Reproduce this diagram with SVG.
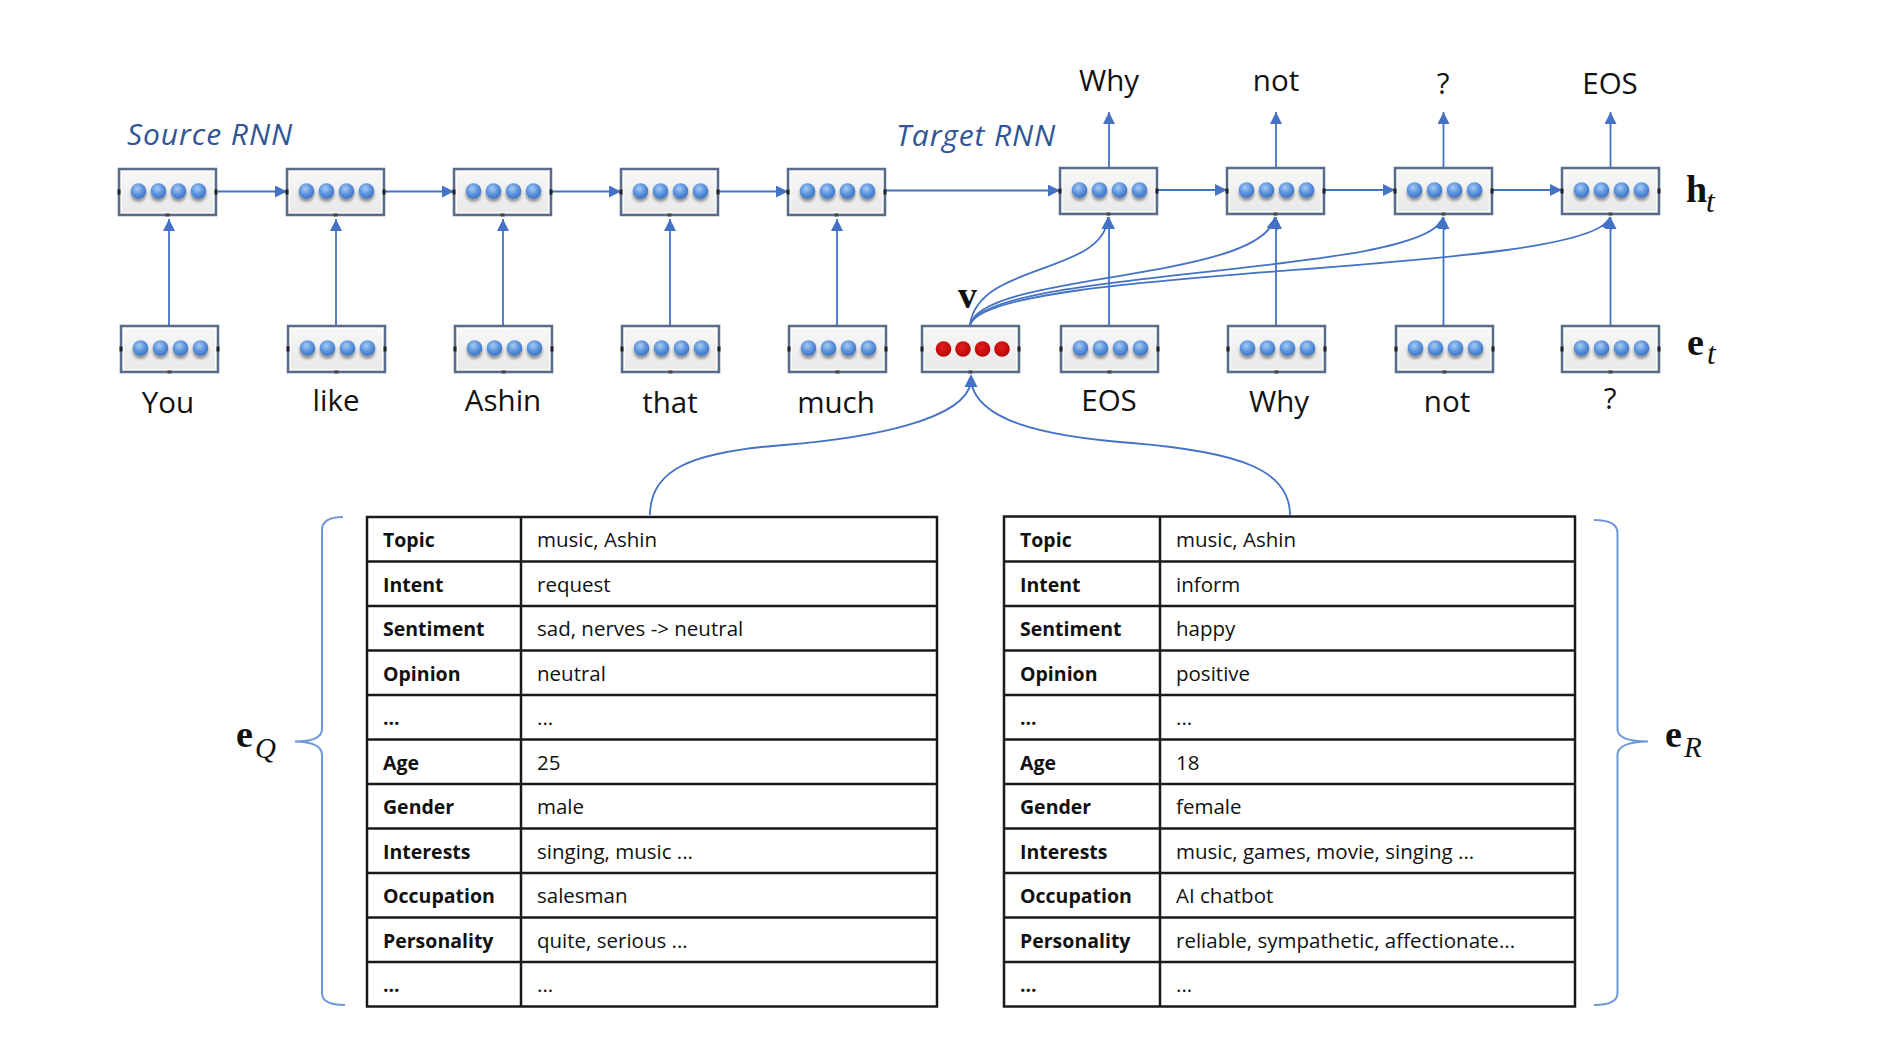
<svg xmlns="http://www.w3.org/2000/svg" xmlns:xlink="http://www.w3.org/1999/xlink" width="1888" height="1059" viewBox="0 0 1888 1059">
<style>
.word{font-family:"Open Sans","Liberation Sans",sans-serif;font-size:29.5px;fill:#111;text-anchor:middle}
.rnn{font-family:"Open Sans","Liberation Sans",sans-serif;font-size:30px;font-style:italic;fill:#2F5597}
.math{font-family:"Liberation Serif","DejaVu Serif",serif;font-weight:bold;fill:#111}
.sub{font-family:"Liberation Serif","DejaVu Serif",serif;font-style:italic;fill:#111}
.key{font-family:"Open Sans","Liberation Sans",sans-serif;font-size:19.5px;font-weight:bold;fill:#111}
.val{font-family:"Open Sans","Liberation Sans",sans-serif;font-size:20.5px;fill:#111}
.conn{fill:none;stroke:#4472C4;stroke-width:1.8}
.arr{marker-end:url(#ah)}
.brace{fill:none;stroke:#6F98DA;stroke-width:2}
.tbl{fill:#fff;stroke:#1a1a1a;stroke-width:2.5}
.tline{stroke:#1a1a1a;stroke-width:2.5}
</style>
<defs>
<marker id="ah" viewBox="0 0 10 10" refX="10" refY="5" markerWidth="12" markerHeight="12" markerUnits="userSpaceOnUse" orient="auto">
<path d="M0,0 L10,5 L0,10 z" fill="#4472C4"/>
</marker>
<linearGradient id="boxFill" x1="0" y1="0" x2="0" y2="1">
<stop offset="0" stop-color="#F8F8F8"/>
<stop offset="1" stop-color="#E8E8E8"/>
</linearGradient>
<radialGradient id="blueBall" cx="0.42" cy="0.35" r="0.65">
<stop offset="0" stop-color="#A8CBF4"/>
<stop offset="0.55" stop-color="#5F96DE"/>
<stop offset="1" stop-color="#3D74C4"/>
</radialGradient>
<radialGradient id="redBall" cx="0.42" cy="0.38" r="0.65">
<stop offset="0" stop-color="#E02020"/>
<stop offset="1" stop-color="#BB0000"/>
</radialGradient>
<filter id="sh" x="-50%" y="-50%" width="200%" height="220%">
<feDropShadow dx="0" dy="3" stdDeviation="1.8" flood-color="#000" flood-opacity="0.4"/>
</filter>
<g id="cellFrame">
<rect x="0" y="0" width="97" height="46" fill="url(#boxFill)" stroke="#5A6C8C" stroke-width="2.5"/>
<rect x="2.5" y="2.5" width="92" height="41" fill="none" stroke="#ffffff" stroke-width="1" opacity="0.8"/>
<rect x="-1.5" y="20.5" width="3" height="5" fill="#222"/>
<rect x="95.5" y="20.5" width="3" height="5" fill="#222"/>
<rect x="46.5" y="44.5" width="4" height="3" fill="#444"/>
</g>
<g id="cell">
<use xlink:href="#cellFrame"/>
<g filter="url(#sh)">
<circle cx="19.5" cy="22" r="7.8" fill="url(#blueBall)"/>
<circle cx="39.5" cy="22" r="7.8" fill="url(#blueBall)"/>
<circle cx="59.5" cy="22" r="7.8" fill="url(#blueBall)"/>
<circle cx="79.5" cy="22" r="7.8" fill="url(#blueBall)"/>
</g>
</g>
<g id="cellRed">
<use xlink:href="#cellFrame"/>
<circle cx="21.5" cy="23" r="7.8" fill="url(#redBall)"/>
<circle cx="41" cy="23" r="7.8" fill="url(#redBall)"/>
<circle cx="60.5" cy="23" r="7.8" fill="url(#redBall)"/>
<circle cx="80" cy="23" r="7.8" fill="url(#redBall)"/>
</g>
</defs>
<rect width="1888" height="1059" fill="#fff"/>

<!-- connectors -->
<g id="connectors">
<line class="conn arr" x1="218" y1="191.5" x2="287" y2="191.5"/>
<line class="conn arr" x1="385" y1="191.5" x2="454" y2="191.5"/>
<line class="conn arr" x1="552" y1="191.5" x2="621" y2="191.5"/>
<line class="conn arr" x1="719" y1="191.5" x2="788" y2="191.5"/>
<line class="conn arr" x1="886" y1="190.5" x2="1060" y2="190.5"/>
<line class="conn arr" x1="1158" y1="190" x2="1227" y2="190"/>
<line class="conn arr" x1="1325" y1="190" x2="1395" y2="190"/>
<line class="conn arr" x1="1493" y1="190" x2="1562" y2="190"/>
<line class="conn arr" x1="169" y1="325" x2="169" y2="219"/>
<line class="conn arr" x1="336" y1="325" x2="336" y2="219"/>
<line class="conn arr" x1="503" y1="325" x2="503" y2="219"/>
<line class="conn arr" x1="670" y1="325" x2="670" y2="219"/>
<line class="conn arr" x1="837" y1="325" x2="837" y2="219"/>
<line class="conn arr" x1="1109" y1="325" x2="1109" y2="217"/>
<line class="conn arr" x1="1276" y1="325" x2="1276" y2="217"/>
<line class="conn arr" x1="1443.5" y1="325" x2="1443.5" y2="217"/>
<line class="conn arr" x1="1610.5" y1="325" x2="1610.5" y2="217"/>
<line class="conn arr" x1="1109" y1="167" x2="1109" y2="112"/>
<line class="conn arr" x1="1276" y1="167" x2="1276" y2="112"/>
<line class="conn arr" x1="1443.5" y1="167" x2="1443.5" y2="112"/>
<line class="conn arr" x1="1610.5" y1="167" x2="1610.5" y2="112"/>
<path class="conn arr" d="M970,325 C978,262 1105,275 1108,217"/>
<path class="conn arr" d="M970,325 C982,272 1262,282 1275,217"/>
<path class="conn arr" d="M970,325 C986,268 1430,276 1443,217"/>
<path class="conn arr" d="M970,325 C990,264 1592,276 1610,217"/>
<path class="conn" d="M650,515 C650,470 690,452 784,445 C870,438 965,420 971,382"/>
<path class="conn" d="M1290,515 C1290,470 1240,452 1132,443 C1040,436 978,420 971,382"/>
<path d="M971,374 L964.5,387 L977.5,387 z" fill="#4472C4"/>
</g>

<g id="src-h1"><use xlink:href="#cell" x="119" y="169"/></g>
<g id="src-h2"><use xlink:href="#cell" x="287" y="169"/></g>
<g id="src-h3"><use xlink:href="#cell" x="454" y="169"/></g>
<g id="src-h4"><use xlink:href="#cell" x="621" y="169"/></g>
<g id="src-h5"><use xlink:href="#cell" x="788" y="169"/></g>
<g id="tgt-h1"><use xlink:href="#cell" x="1060" y="168"/></g>
<g id="tgt-h2"><use xlink:href="#cell" x="1227" y="168"/></g>
<g id="tgt-h3"><use xlink:href="#cell" x="1395" y="168"/></g>
<g id="tgt-h4"><use xlink:href="#cell" x="1562" y="168"/></g>
<g id="src-e1"><use xlink:href="#cell" x="121" y="326"/></g>
<g id="src-e2"><use xlink:href="#cell" x="288" y="326"/></g>
<g id="src-e3"><use xlink:href="#cell" x="455" y="326"/></g>
<g id="src-e4"><use xlink:href="#cell" x="622" y="326"/></g>
<g id="src-e5"><use xlink:href="#cell" x="789" y="326"/></g>
<g id="v-cell"><use xlink:href="#cellRed" x="922" y="326"/></g>
<g id="tgt-e1"><use xlink:href="#cell" x="1061" y="326"/></g>
<g id="tgt-e2"><use xlink:href="#cell" x="1228" y="326"/></g>
<g id="tgt-e3"><use xlink:href="#cell" x="1396" y="326"/></g>
<g id="tgt-e4"><use xlink:href="#cell" x="1562" y="326"/></g>

<g id="labels">
<text class="rnn" x="127" y="145" textLength="165" lengthAdjust="spacing">Source RNN</text>
<text class="rnn" x="896" y="146" textLength="159" lengthAdjust="spacing">Target RNN</text>
<text class="word" x="1109" y="91">Why</text>
<text class="word" x="1276" y="91">not</text>
<text class="word" x="1443" y="94">?</text>
<text class="word" x="1610" y="94">EOS</text>
<text class="word" x="168" y="413">You</text>
<text class="word" x="336" y="411">like</text>
<text class="word" x="503" y="411">Ashin</text>
<text class="word" x="670" y="413">that</text>
<text class="word" x="836" y="413">much</text>
<text class="word" x="1109" y="411">EOS</text>
<text class="word" x="1279" y="412">Why</text>
<text class="word" x="1447" y="412">not</text>
<text class="word" x="1610" y="409">?</text>
<text class="math" x="958" y="308" font-size="38">v</text>
<text class="math" x="1686" y="202" font-size="38">h</text>
<text class="sub" x="1706" y="212" font-size="31">t</text>
<text class="math" x="1687" y="355" font-size="38">e</text>
<text class="sub" x="1707" y="364" font-size="31">t</text>
<text class="math" x="236" y="747" font-size="38">e</text>
<text class="sub" x="255" y="758" font-size="29">Q</text>
<text class="math" x="1665" y="747" font-size="38">e</text>
<text class="sub" x="1684" y="757" font-size="29">R</text>
</g>

<g id="brace-Q"><path class="brace" d="M343,517 Q322,517 322,530 L322,729 Q322,741.5 295,741.5 Q322,742 322,755 L322,993 Q322,1005 345,1005"/></g>
<g id="brace-R"><path class="brace" d="M1594,520 Q1617.5,520 1617.5,533 L1617.5,729 Q1617.5,741.5 1648,741.5 Q1617.5,742 1617.5,755 L1617.5,993 Q1617.5,1005 1594,1005"/></g>

<g id="table-Q">
<rect class="tbl" x="367" y="517" width="570" height="489.5"/>
<line class="tline" x1="521" y1="517" x2="521" y2="1006.5"/>
<line class="tline" x1="367" y1="561.5" x2="937" y2="561.5"/>
<line class="tline" x1="367" y1="606" x2="937" y2="606"/>
<line class="tline" x1="367" y1="650.5" x2="937" y2="650.5"/>
<line class="tline" x1="367" y1="695" x2="937" y2="695"/>
<line class="tline" x1="367" y1="739.5" x2="937" y2="739.5"/>
<line class="tline" x1="367" y1="784" x2="937" y2="784"/>
<line class="tline" x1="367" y1="828.5" x2="937" y2="828.5"/>
<line class="tline" x1="367" y1="873" x2="937" y2="873"/>
<line class="tline" x1="367" y1="917.5" x2="937" y2="917.5"/>
<line class="tline" x1="367" y1="962" x2="937" y2="962"/>
<text class="key" x="383" y="547">Topic</text><text class="val" x="537" y="547">music, Ashin</text>
<text class="key" x="383" y="591.5">Intent</text><text class="val" x="537" y="591.5">request</text>
<text class="key" x="383" y="636">Sentiment</text><text class="val" x="537" y="636">sad, nerves -&gt; neutral</text>
<text class="key" x="383" y="680.5">Opinion</text><text class="val" x="537" y="680.5">neutral</text>
<text class="key" x="383" y="725">...</text><text class="val" x="537" y="725">...</text>
<text class="key" x="383" y="769.5">Age</text><text class="val" x="537" y="769.5">25</text>
<text class="key" x="383" y="814">Gender</text><text class="val" x="537" y="814">male</text>
<text class="key" x="383" y="858.5">Interests</text><text class="val" x="537" y="858.5">singing, music ...</text>
<text class="key" x="383" y="903">Occupation</text><text class="val" x="537" y="903">salesman</text>
<text class="key" x="383" y="947.5">Personality</text><text class="val" x="537" y="947.5">quite, serious ...</text>
<text class="key" x="383" y="992">...</text><text class="val" x="537" y="992">...</text>
</g>

<g id="table-R">
<rect class="tbl" x="1004" y="516.5" width="571" height="490"/>
<line class="tline" x1="1160" y1="516.5" x2="1160" y2="1006.5"/>
<line class="tline" x1="1004" y1="561.5" x2="1575" y2="561.5"/>
<line class="tline" x1="1004" y1="606" x2="1575" y2="606"/>
<line class="tline" x1="1004" y1="650.5" x2="1575" y2="650.5"/>
<line class="tline" x1="1004" y1="695" x2="1575" y2="695"/>
<line class="tline" x1="1004" y1="739.5" x2="1575" y2="739.5"/>
<line class="tline" x1="1004" y1="784" x2="1575" y2="784"/>
<line class="tline" x1="1004" y1="828.5" x2="1575" y2="828.5"/>
<line class="tline" x1="1004" y1="873" x2="1575" y2="873"/>
<line class="tline" x1="1004" y1="917.5" x2="1575" y2="917.5"/>
<line class="tline" x1="1004" y1="962" x2="1575" y2="962"/>
<text class="key" x="1020" y="547">Topic</text><text class="val" x="1176" y="547">music, Ashin</text>
<text class="key" x="1020" y="591.5">Intent</text><text class="val" x="1176" y="591.5">inform</text>
<text class="key" x="1020" y="636">Sentiment</text><text class="val" x="1176" y="636">happy</text>
<text class="key" x="1020" y="680.5">Opinion</text><text class="val" x="1176" y="680.5">positive</text>
<text class="key" x="1020" y="725">...</text><text class="val" x="1176" y="725">...</text>
<text class="key" x="1020" y="769.5">Age</text><text class="val" x="1176" y="769.5">18</text>
<text class="key" x="1020" y="814">Gender</text><text class="val" x="1176" y="814">female</text>
<text class="key" x="1020" y="858.5">Interests</text><text class="val" x="1176" y="858.5">music, games, movie, singing ...</text>
<text class="key" x="1020" y="903">Occupation</text><text class="val" x="1176" y="903">AI chatbot</text>
<text class="key" x="1020" y="947.5">Personality</text><text class="val" x="1176" y="947.5">reliable, sympathetic, affectionate...</text>
<text class="key" x="1020" y="992">...</text><text class="val" x="1176" y="992">...</text>
</g>
</svg>
